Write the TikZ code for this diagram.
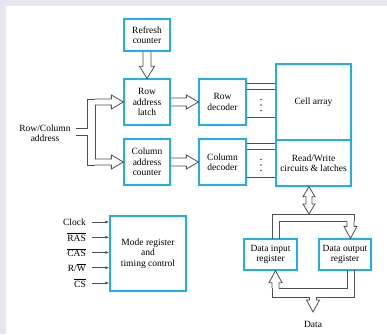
\documentclass[tikz,border=0pt]{standalone}
\usepackage{fontspec}
\setmainfont{Liberation Serif}
\usetikzlibrary{arrows.meta, positioning, calc}

\definecolor{boxblue}{RGB}{30,176,230}
\definecolor{wiregray}{RGB}{80,80,80}
\definecolor{framegray}{RGB}{230,230,242}

% hollow bus arrow: start, tip, shaft half width, head half width
\newcommand{\busarrow}[4]{%
  \coordinate (hb) at ($(#2)!12pt!(#1)$);
  \draw[bus] ($(#1)!#3!90:(#2)$) -- ($(hb)!#3!90:(#2)$) -- ($(hb)!#4!90:(#2)$) -- (#2)
    -- ($(hb)!#4!-90:(#2)$) -- ($(hb)!#3!-90:(#2)$) -- ($(#1)!#3!-90:(#2)$);
}
% hollow bus arrow with two heads
\newcommand{\bibus}[2]{%
  \coordinate (ha) at ($(#1)!10pt!(#2)$);
  \coordinate (hb) at ($(#2)!10pt!(#1)$);
  \draw[bus] (#1) -- ($(ha)!6pt!90:(#2)$) -- ($(ha)!3pt!90:(#2)$) -- ($(hb)!3pt!90:(#2)$)
    -- ($(hb)!6pt!90:(#2)$) -- (#2) -- ($(hb)!6pt!-90:(#2)$) -- ($(hb)!3pt!-90:(#2)$)
    -- ($(ha)!3pt!-90:(#2)$) -- ($(ha)!6pt!-90:(#2)$) -- cycle;
}

\begin{document}
\begin{tikzpicture}[x=1pt, y=-1pt,
    blk/.style={draw=boxblue, line width=1.3pt, fill=white, align=center, inner sep=1pt,
      font=\fontsize{9.5}{10.5}\selectfont},
    lab/.style={align=center, inner sep=1pt, font=\fontsize{9.5}{10.5}\selectfont},
    bus/.style={draw=wiregray, line width=0.8pt},
    sig/.style={draw=wiregray, line width=0.8pt, -{Latex[length=4pt,width=3pt]}},
    wire/.style={draw=wiregray, line width=0.8pt}]
  \useasboundingbox (0,0) rectangle (387,334);
  \fill[framegray] (0,0) rectangle (387,334);
  \fill[white] (6,6) rectangle (387,334);

  % blocks
  \node[blk, minimum width=46pt, minimum height=32pt] (refresh) at (147,35) {Refresh\\counter};
  \node[blk, minimum width=46pt, minimum height=46pt] (latch) at (147,102) {Row\\address\\latch};
  \node[blk, minimum width=46pt, minimum height=46pt] (colctr) at (147,162) {Column\\address\\counter};
  \node[blk, minimum width=47pt, minimum height=46pt] (rowdec) at (222.5,102) {Row\\decoder};
  \node[blk, minimum width=47pt, minimum height=46pt] (coldec) at (222.5,162) {Column\\decoder};
  \node[blk, minimum width=75pt, minimum height=76pt] (cell) at (313.5,102) {Cell array};
  \node[blk, minimum width=75pt, minimum height=46pt] (rw) at (313.5,163) {Read/Write\\circuits \& latches};
  \node[blk, minimum width=76pt, minimum height=75pt] (mode) at (148,253.5) {Mode register\\and\\timing control};
  \node[blk, minimum width=53pt, minimum height=31pt] (din) at (270.5,254.5) {Data input\\register};
  \node[blk, minimum width=52pt, minimum height=31pt] (dout) at (345,254.5) {Data output\\register};

  % address input
  \node[lab] (addr) at (45,133) {Row/Column\\address};
  \coordinate (ra) at (95,102);
  \coordinate (ca) at (95,162);
  \busarrow{ra}{latch.west}{3pt}{7pt}
  \busarrow{ca}{colctr.west}{3pt}{7pt}
  \draw[wire] (76,128) -- (87,128) -- (87,99) -- (95,99);
  \draw[wire] (76,135) -- (87,135) -- (87,165) -- (95,165);
  \draw[wire] (95,105) -- (95,159);

  \busarrow{refresh.south}{latch.north}{4pt}{7.5pt}
  \busarrow{latch.east}{rowdec.west}{4pt}{7pt}
  \busarrow{colctr.east}{coldec.west}{4pt}{7pt}

  % decoder outputs
  \foreach \d in {5,11,39} {
    \coordinate (r\d) at ($(rowdec.north east)+(0,\d)$);
    \coordinate (c\d) at ($(coldec.north east)+(0,\d)$);
    \draw[wire] (r\d) -- (r\d -| cell.west);
    \draw[wire] (c\d) -- (c\d -| rw.west);
  }
  \coordinate (rdots) at ($(rowdec.east)!0.5!(rowdec.east -| cell.west)+(0,3)$);
  \coordinate (cdots) at ($(coldec.east)!0.5!(coldec.east -| rw.west)+(0,3)$);
  \foreach \k in {-5.5,0,5.5} {
    \fill[wiregray] ($(rdots)+(0,\k)$) circle (0.9);
    \fill[wiregray] ($(cdots)+(0,\k)$) circle (0.9);
  }

  % control signals
  \foreach \lbl [count=\i] in {Clock, $\overline{\mbox{RAS}}$, $\overline{\mbox{CAS}}$, R/$\overline{\mbox{W}}$, $\overline{\mbox{CS}}$} {
    \node[lab, anchor=east] (s\i) at (87,{222+15.25*(\i-1)}) {\lbl};
    \draw[sig] ([xshift=5pt]s\i.east) -- (s\i.east -| mode.west);
  }

  % data paths
  \coordinate (rwb) at ($(rw.south)+(-4.5,0)$);
  \coordinate (bt) at (309,214);
  \bibus{rwb}{bt}
  \coordinate (dof) at (350.5,221);
  \coordinate (dot) at (dof |- dout.north);
  \busarrow{dof}{dot}{3.5pt}{6.5pt}
  \draw[wire] (272,239) -- (272,214) -- (354,214) -- (354,221);
  \draw[wire] (279,239) -- (279,221) -- (347,221);
  \coordinate (dif) at (275.5,288);
  \coordinate (dit) at (dif |- din.south);
  \busarrow{dif}{dit}{3.5pt}{6.5pt}
  \draw[wire] (279,288) -- (347,288) -- (347,270);
  \draw[wire] (272,288) -- (272,297) -- (309.5,297);
  \draw[wire] (316.5,297) -- (354,297) -- (354,270);
  \coordinate (dtop) at (313,297);
  \coordinate (dtip) at (313,312);
  \busarrow{dtop}{dtip}{3.5pt}{6.5pt}
  \node[lab] (data) at (313,324) {Data};
\end{tikzpicture}
\end{document}
